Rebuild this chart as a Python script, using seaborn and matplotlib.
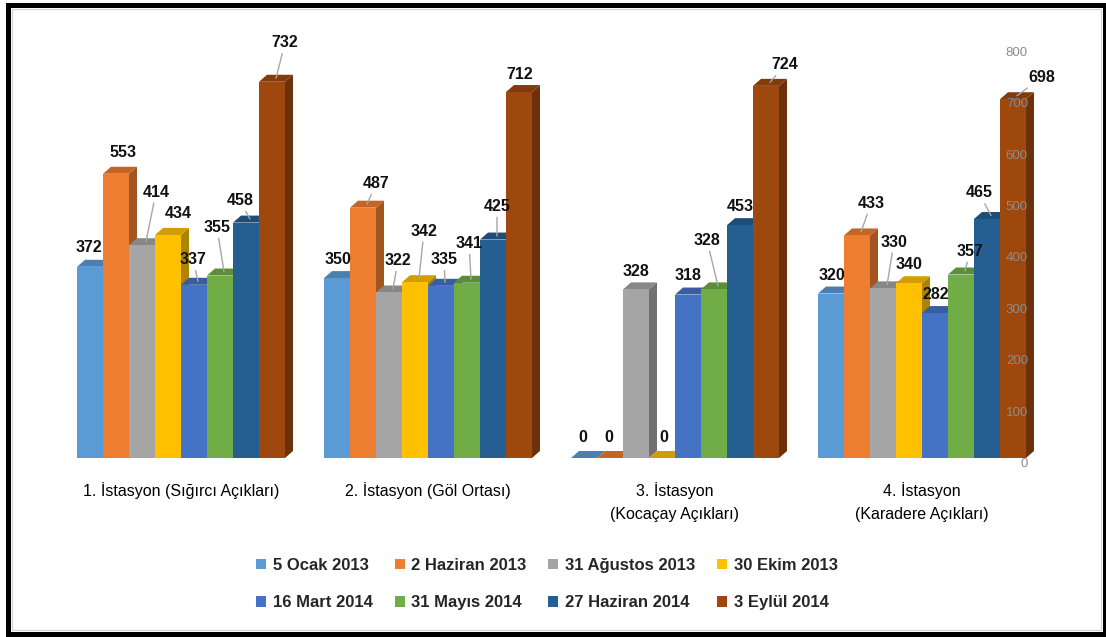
import numpy as np
import pandas as pd
import matplotlib.pyplot as plt
import seaborn as sns
from matplotlib.patches import Polygon, Rectangle
from matplotlib.colors import to_rgb

# --- data ---
stations = ["1. İstasyon (Sığırcı Açıkları)",
            "2. İstasyon (Göl Ortası)",
            "3. İstasyon\n(Kocaçay Açıkları)",
            "4. İstasyon\n(Karadere Açıkları)"]
dates = ["5 Ocak 2013", "2 Haziran 2013", "31 Ağustos 2013", "30 Ekim 2013",
         "16 Mart 2014", "31 Mayıs 2014", "27 Haziran 2014", "3 Eylül 2014"]
ist1 = [372, 553, 414, 434, 337, 355, 458, 732]
ist2 = [350, 487, 322, 342, 335, 341, 425, 712]
ist3 = [0, 0, 328, 0, 318, 328, 453, 724]
ist4 = [320, 433, 330, 340, 282, 357, 465, 698]
y_ticks = [0, 100, 200, 300, 400, 500, 600, 700, 800]

colors = ["#5B9BD5", "#ED7D31", "#A5A5A5", "#FFC000",
          "#4472C4", "#70AD47", "#255E91", "#9E480E"]

# label placement (pixels from the bar's front top centre, image direction) + leader line
label_pos = [
    (-1, -19, 0), (7, -21, 0), (14, -53, 1), (10, -21, 0), (-1, -25, 1), (-3, -48, 1), (-6, -22, 1), (13, -39, 1),
    (1, -19, 0), (13, -24, 1), (9, -32, 1), (9, -51, 1), (3, -26, 1), (2, -39, 1), (4, -33, 1), (1, -18, 0),
    (-1, -20, 0), (-1, -20, 0), (0, -18, 0), (2, -20, 0), (0, -19, 0), (-7, -49, 1), (0, -19, 0), (19, -21, 1),
    (1, -18, 0), (14, -32, 1), (11, -46, 1), (0, -19, 0), (1, -19, 0), (9, -23, 1), (-8, -26, 1), (29, -22, 1),
]

df = pd.DataFrame({
    "istasyon": np.repeat(stations, len(dates)),
    "tarih": dates * len(stations),
    "deger": ist1 + ist2 + ist3 + ist4,
})

sns.set_style("white")
plt.rcParams["font.family"] = ["Liberation Sans", "DejaVu Sans"]

W, H = 1106, 637
fig = plt.figure(figsize=(W / 100, H / 100), dpi=100)
fig.patch.set_facecolor("white")
ax = fig.add_axes([57.5 / W, 179 / H, 988 / W, 411.2 / H])

sns.barplot(data=df, x="istasyon", y="deger", hue="tarih",
            order=stations, hue_order=dates, palette=colors,
            width=0.842, saturation=1, errorbar=None, linewidth=0, ax=ax)
ax.set_xlim(-0.5, 3.5)
ax.set_ylim(0, 800)

# fake 3D depth
DX, DY = 8, 7
px_x = ax.bbox.width / 4.0
px_y = ax.bbox.height / 800.0
ddx, ddy = DX / px_x, DY / px_y


def shade(c, f):
    r, g, b = to_rgb(c)
    return (r * f, g * f, b * f)


for hi, cont in enumerate(ax.containers):
    for gi, bar in enumerate(cont):
        r = gi * len(dates) + hi
        x0 = bar.get_x()
        x1 = x0 + bar.get_width()
        h = bar.get_height()
        side = Polygon([(x1, 0), (x1 + ddx, ddy), (x1 + ddx, h + ddy), (x1, h)],
                       closed=True, facecolor=shade(colors[hi], 0.68), lw=0,
                       zorder=10 + 2 * r, clip_on=False)
        top = Polygon([(x0, h), (x1, h), (x1 + ddx, h + ddy), (x0 + ddx, h + ddy)],
                      closed=True, facecolor=shade(colors[hi], 0.82), lw=0,
                      zorder=10 + 2 * r, clip_on=False)
        ax.add_patch(side)
        ax.add_patch(top)
        bar.set_zorder(11 + 2 * r)

        dx, dy, lead = label_pos[r]
        cx = x0 + bar.get_width() / 2
        ax.annotate(f"{h:.0f}", xy=(cx + ddx / 2, h + ddy / 2),
                    xytext=(dx - DX / 2, -dy - DY / 2), textcoords="offset pixels",
                    ha="center", va="center", fontsize=11.5, fontweight="bold",
                    color="#111111", zorder=300, annotation_clip=False,
                    arrowprops=dict(arrowstyle="-", color="#a6a6a6", lw=1,
                                    shrinkA=0, shrinkB=0) if lead else None)

# axes look
for s in ax.spines.values():
    s.set_visible(False)
ax.set_xlabel("")
ax.set_ylabel("")
ax.tick_params(axis="x", length=0, pad=17, labelsize=11.5, labelcolor="black")
plt.setp(ax.get_xticklabels(), linespacing=1.7)

ax.yaxis.tick_right()
ax.set_yticks(y_ticks)
ax.tick_params(axis="y", length=0, pad=-12.6, labelsize=9.5, labelcolor="#8c8c8c")
plt.setp(ax.yaxis.get_majorticklabels(), ha="right", va="top")
ax.yaxis.set_zorder(250)

# legend: two rows of four
handles, labels = ax.get_legend_handles_labels()
if ax.get_legend() is not None:
    ax.get_legend().remove()
order = [0, 4, 1, 5, 2, 6, 3, 7]
fig.legend([handles[i] for i in order], [labels[i] for i in order],
           ncol=4, loc="center", bbox_to_anchor=(547 / W, 1 - 584 / H),
           frameon=False, prop=dict(weight="bold", size=12),
           handlelength=0.6, handleheight=0.6, handletextpad=0.4,
           columnspacing=1.3, labelspacing=1.35, borderpad=0, borderaxespad=0)

# outer frame
fig.add_artist(Rectangle((7.5 / W, 3 / H), 1097 / W, 629.5 / H, transform=fig.transFigure,
                         fill=False, edgecolor="black", lw=3.6))
fig.add_artist(Rectangle((11.5 / W, 7 / H), 1089 / W, 621.5 / H, transform=fig.transFigure,
                         fill=False, edgecolor="#d0d0d0", lw=0.8))

fig.savefig("out.png", dpi=100)
